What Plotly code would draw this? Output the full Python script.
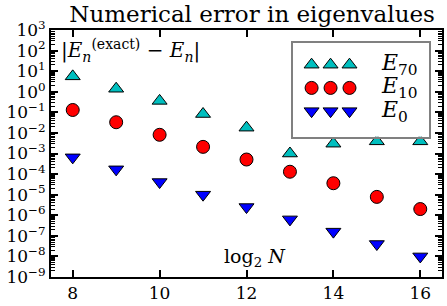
import math
import plotly.graph_objects as go

# Data (log2 N, error values)
log2N = [8, 9, 10, 11, 12, 13, 14, 15, 16]
err_E70 = [5.6, 1.4, 0.36, 0.083, 0.018, 1.0e-3, 3.0e-3, 3.9e-3, 3.9e-3]
err_E10 = [0.13, 0.033, 8.1e-3, 2.1e-3, 5.1e-4, 1.3e-4, 3.6e-5, 7.8e-6, 2.0e-6]
err_E0 = [6.5e-4, 1.7e-4, 4.1e-5, 1.0e-5, 2.5e-6, 6.3e-7, 1.6e-7, 4.0e-8, 1.0e-8]

series_names = ["<i>E</i><sub>70</sub>", "<i>E</i><sub>10</sub>", "<i>E</i><sub>0</sub>"]
series_values = [err_E70, err_E10, err_E0]
series_symbols = ["triangle-up", "circle", "triangle-down"]
series_colors = ["#00BFBF", "#FF0000", "#0000FF"]
series_sizes = [13, 13, 13]

x_ticks = [8, 10, 12, 14, 16]
y_exponents = list(range(-9, 4))
y_tickvals = [10.0 ** e for e in y_exponents]
y_ticktext = ["10<sup>%s</sup>" % (str(e).replace("-", "−")) for e in y_exponents]
y_minor = [m * 10.0 ** e for e in y_exponents[:-1] for m in range(2, 10)]

legend_key_x = [0, 1, 2]
legend_rows = [2, 1, 0]

FONT = "DejaVu Serif"

fig = go.Figure()

for name, vals, sym, col, sz in zip(series_names, series_values, series_symbols,
                                    series_colors, series_sizes):
    fig.add_trace(go.Scatter(
        x=log2N, y=vals, mode="markers", name=name, showlegend=False,
        marker=dict(symbol=sym, color=col, size=sz,
                    line=dict(color="black", width=1)),
        xaxis="x", yaxis="y"))

# empty traces so the minor-tick overlay axes are drawn
fig.add_trace(go.Scatter(x=[], y=[], xaxis="x", yaxis="y3", showlegend=False))
fig.add_trace(go.Scatter(x=[], y=[], xaxis="x", yaxis="y4", showlegend=False))

# Custom legend box with three sample markers per entry (matplotlib style)
for name, sym, col, sz, row in zip(series_names, series_symbols, series_colors,
                                   series_sizes, legend_rows):
    fig.add_trace(go.Scatter(
        x=legend_key_x, y=[row] * len(legend_key_x), mode="markers",
        showlegend=False, hoverinfo="skip",
        marker=dict(symbol=sym, color=col, size=sz,
                    line=dict(color="black", width=1)),
        xaxis="x2", yaxis="y2"))
    fig.add_annotation(x=3.55, y=row, xref="x2", yref="y2", text=name,
                       showarrow=False, xanchor="left", yanchor="middle",
                       font=dict(family=FONT, size=22, color="black"))

fig.add_annotation(x=0.02, y=0.985, xref="paper", yref="paper",
                   text="|<i>E</i><sub><i>n</i></sub><sup>(exact)</sup> − <i>E</i><sub><i>n</i></sub>|",
                   showarrow=False, xanchor="left", yanchor="top",
                   font=dict(family=FONT, size=20, color="black"))

fig.add_annotation(x=12.2, y=math.log10(9e-9), xref="x", yref="y",
                   text="log<sub>2</sub> <i>N</i>", showarrow=False,
                   xanchor="center", yanchor="middle",
                   font=dict(family=FONT, size=19, color="black"))

minor_axis = dict(type="log", range=[-9, 3], overlaying="y", anchor="x",
                  tickvals=y_minor, ticks="inside", ticklen=4, tickwidth=1,
                  tickcolor="black", showticklabels=False, showline=False,
                  showgrid=False, zeroline=False, fixedrange=True)

fig.update_layout(
    width=447, height=306,
    margin=dict(l=51, r=3, t=30, b=26),
    paper_bgcolor="white", plot_bgcolor="white",
    font=dict(family=FONT, size=17, color="black"),
    title=dict(text="Numerical error in eigenvalues", x=0.564, xanchor="center",
               y=0.955, yanchor="middle", yref="container",
               font=dict(family=FONT, size=23, color="black")),
    xaxis=dict(range=[7.5, 16.5], tickvals=x_ticks, ticks="inside", ticklen=7,
               tickwidth=1.5, tickcolor="black", showline=True, linecolor="black",
               linewidth=2, mirror="ticks", showgrid=False, zeroline=False,
               tickfont=dict(family=FONT, size=17)),
    yaxis=dict(type="log", range=[-9, 3], tickvals=y_tickvals, ticktext=y_ticktext,
               ticks="inside", ticklen=7, tickwidth=1.5, tickcolor="black",
               showline=True, linecolor="black", linewidth=2, mirror="ticks",
               showgrid=False, zeroline=False,
               tickfont=dict(family=FONT, size=17)),
    yaxis3=dict(minor_axis, side="left"),
    yaxis4=dict(minor_axis, side="right"),
    xaxis2=dict(domain=[0.618, 0.967], range=[-1, 6.2], anchor="y2",
                showline=True, mirror=True, linecolor="#808080", linewidth=2,
                showticklabels=False, ticks="", showgrid=False, zeroline=False,
                fixedrange=True),
    yaxis2=dict(domain=[0.568, 0.948], range=[-1.1, 2.94], anchor="x2",
                showline=True, mirror=True, linecolor="#808080", linewidth=2,
                showticklabels=False, ticks="", showgrid=False, zeroline=False,
                fixedrange=True),
)

fig.write_html("out.html", config={"displayModeBar": False},
               post_script="document.body.style.margin='0';document.body.style.overflow='hidden';")
